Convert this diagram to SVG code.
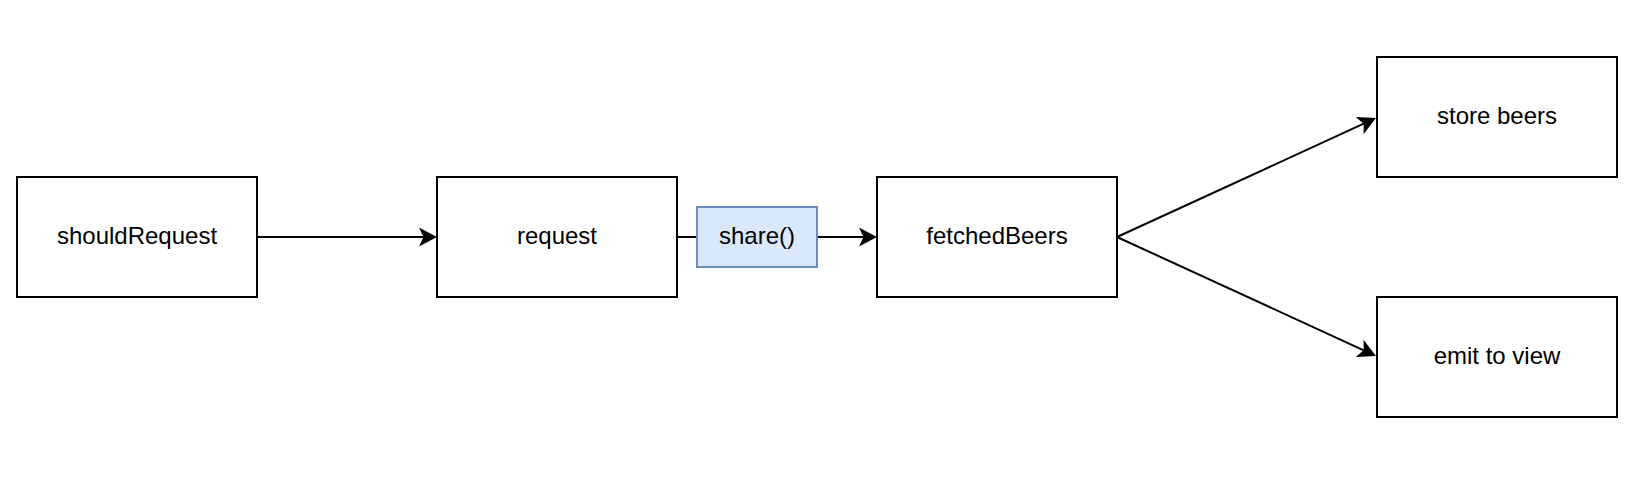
<svg xmlns="http://www.w3.org/2000/svg" width="1636" height="478" viewBox="0 0 1636 478">
<style>
  .box { fill: #ffffff; stroke: #000000; stroke-width: 2; }
  .blue { fill: #dae8fc; stroke: #6c8ebf; stroke-width: 2; }
  .lbl { font-family: "Liberation Sans", Arial, sans-serif; font-size: 24px; fill: #000000; text-anchor: middle; dominant-baseline: central; }
  .edge { fill: none; stroke: #000000; stroke-width: 2; }
</style>
<defs>
  <marker id="arrow" markerUnits="userSpaceOnUse" markerWidth="18" markerHeight="19" viewBox="0 0 18 19" refX="4.5" refY="9.5" orient="auto">
    <path d="M0,0 L18,9.5 L0,19 L4.5,9.5 Z" fill="#000000"/>
  </marker>
</defs>
<rect width="1636" height="478" fill="#ffffff"/>
<g id="connectors">
  <line class="edge" x1="257" y1="237" x2="423.5" y2="237" marker-end="url(#arrow)"/>
  <line class="edge" x1="677" y1="237" x2="697" y2="237"/>
  <line class="edge" x1="817" y1="237" x2="863.5" y2="237" marker-end="url(#arrow)"/>
  <line class="edge" x1="1117" y1="237" x2="1363.7" y2="123.7" marker-end="url(#arrow)"/>
  <line class="edge" x1="1117" y1="237" x2="1363.7" y2="350.3" marker-end="url(#arrow)"/>
</g>
<g id="shouldRequest">
  <rect class="box" x="17" y="177" width="240" height="120"/>
  <text class="lbl" x="137" y="235">shouldRequest</text>
</g>
<g id="request">
  <rect class="box" x="437" y="177" width="240" height="120"/>
  <text class="lbl" x="557" y="235">request</text>
</g>
<g id="share">
  <rect class="blue" x="697" y="207" width="120" height="60"/>
  <text class="lbl" x="757" y="235">share()</text>
</g>
<g id="fetchedBeers">
  <rect class="box" x="877" y="177" width="240" height="120"/>
  <text class="lbl" x="997" y="235">fetchedBeers</text>
</g>
<g id="storeBeers">
  <rect class="box" x="1377" y="57" width="240" height="120"/>
  <text class="lbl" x="1497" y="115">store beers</text>
</g>
<g id="emitToView">
  <rect class="box" x="1377" y="297" width="240" height="120"/>
  <text class="lbl" x="1497" y="355">emit to view</text>
</g>
</svg>
